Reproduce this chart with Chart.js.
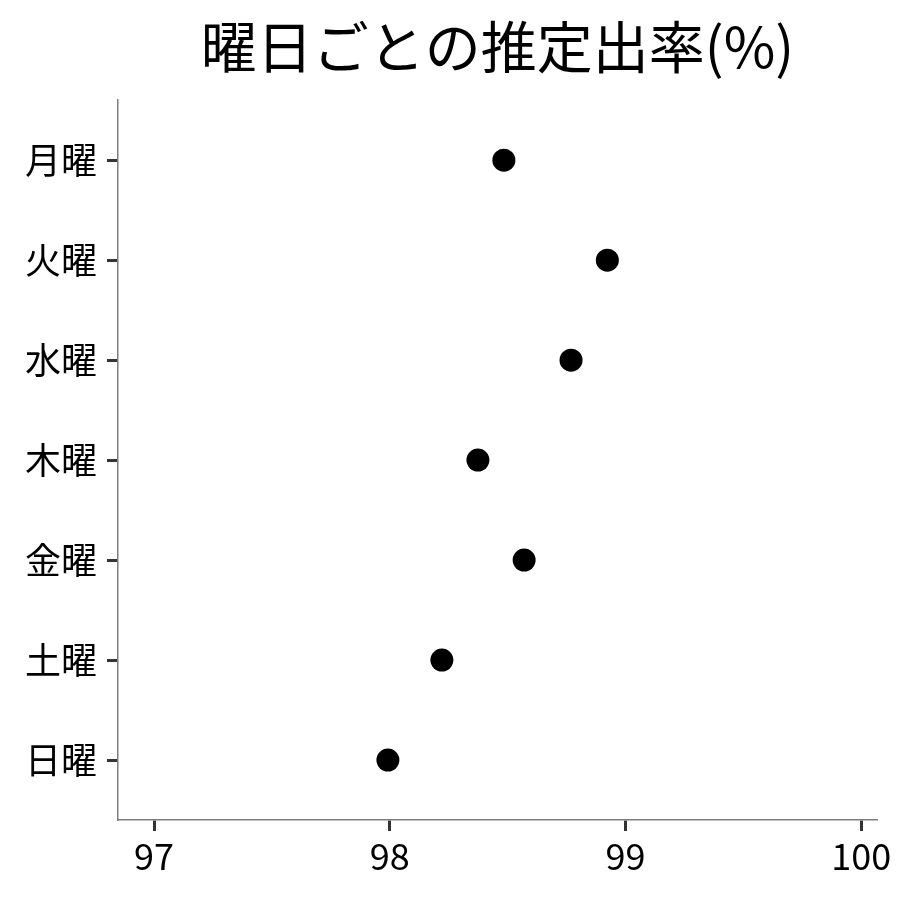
<!DOCTYPE html>
<html>
<head>
<meta charset="utf-8">
<script src="https://cdn.jsdelivr.net/npm/chart.js@4"></script>
<style>
  html, body { margin: 0; padding: 0; background: #ffffff; }
  #wrap { width: 900px; height: 900px; }
</style>
</head>
<body>
<div id="wrap"><canvas id="c" width="900" height="900"></canvas></div>
<script>
const titleText = "曜日ごとの推定出率(%)";
const days = ["月曜", "火曜", "水曜", "木曜", "金曜", "土曜", "日曜"];
const rates = [98.484, 98.923, 98.769, 98.374, 98.570, 98.221, 97.992];
const xTicks = [97, 98, 99, 100];

const FONT = "'Noto Sans CJK JP', 'Noto Sans CJK SC', 'Noto Sans', sans-serif";

function build() {
  const points = days.map((d, i) => ({ x: rates[i], y: i }));
  new Chart(document.getElementById('c'), {
    type: 'scatter',
    data: {
      datasets: [{
        data: points,
        backgroundColor: '#000000',
        borderColor: '#000000',
        pointRadius: 11.5,
        pointHoverRadius: 11.5,
        borderWidth: 0
      }]
    },
    options: {
      responsive: false,
      animation: false,
      devicePixelRatio: 1,
      layout: { padding: { top: 0, right: 23, bottom: 0, left: 0 } },
      plugins: {
        legend: { display: false },
        tooltip: { enabled: false },
        title: {
          display: true,
          text: titleText,
          fullSize: false,
          color: '#000000',
          font: { family: FONT, size: 56, weight: 'normal' },
          padding: { top: 13, bottom: 20 }
        }
      },
      scales: {
        x: {
          type: 'linear',
          min: 96.847,
          max: 100.067,
          afterBuildTicks: (s) => { s.ticks = xTicks.map(v => ({ value: v })); },
          afterFit: (s) => { s.height = 80; },
          grid: {
            display: true,
            drawOnChartArea: false,
            drawTicks: true,
            tickLength: 11,
            tickWidth: 3,
            tickColor: '#333333'
          },
          border: { display: true, color: '#7f7f7f', width: 1.5 },
          ticks: {
            color: '#000000',
            padding: 4,
            maxRotation: 0,
            autoSkip: false,
            font: { family: FONT, size: 36 },
            callback: (v) => String(v)
          }
        },
        y: {
          type: 'linear',
          reverse: true,
          min: -0.6,
          max: 6.6,
          afterBuildTicks: (s) => { s.ticks = days.map((_, i) => ({ value: i })); },
          afterFit: (s) => { s.width = 118; },
          grid: {
            display: true,
            drawOnChartArea: false,
            drawTicks: true,
            tickLength: 11,
            tickWidth: 3,
            tickColor: '#333333'
          },
          border: { display: true, color: '#7f7f7f', width: 1.5 },
          ticks: {
            color: '#000000',
            padding: 10,
            autoSkip: false,
            font: { family: FONT, size: 36 },
            callback: (v) => days[v] !== undefined ? days[v] : ''
          }
        }
      }
    }
  });
}

if (document.fonts && document.fonts.load) {
  Promise.all([
    document.fonts.load("56px 'Noto Sans CJK JP'", titleText),
    document.fonts.load("36px 'Noto Sans CJK JP'", days.join('') + '0123456789')
  ]).then(build, build);
} else {
  build();
}
</script>
</body>
</html>
